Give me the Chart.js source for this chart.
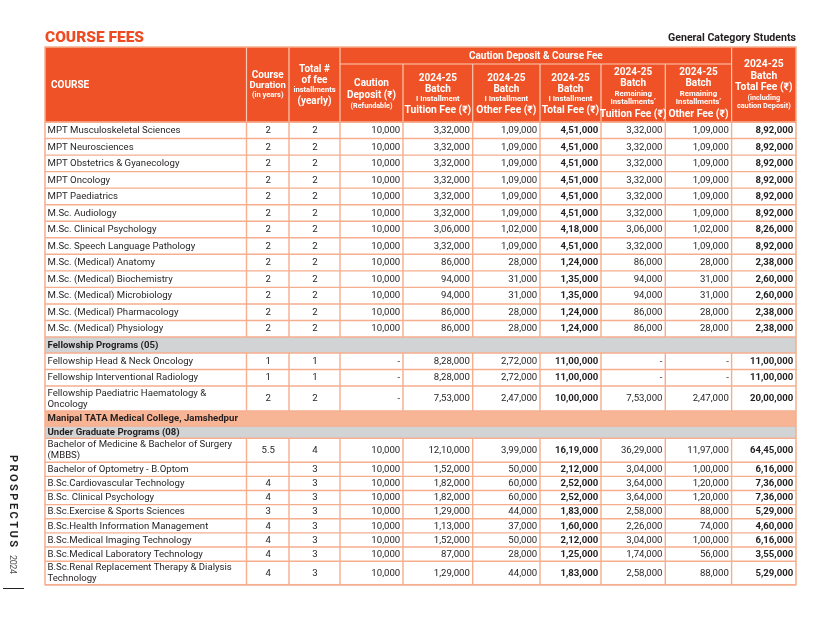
<!DOCTYPE html>
<html><head><meta charset="utf-8">
<script src="https://cdn.jsdelivr.net/npm/chart.js@4.4.1/dist/chart.umd.min.js"></script>
<style>html,body{margin:0;padding:0;background:#fff;}#wrap{width:816px;height:629px;position:relative;}</style>
</head><body><div id="wrap"><canvas id="c" width="816" height="629"></canvas></div>
<script>
// ---------- DATA ----------
const courses = [
  'MPT Musculoskeletal Sciences','MPT Neurosciences','MPT Obstetrics & Gyanecology','MPT Oncology','MPT Paediatrics',
  'M.Sc. Audiology','M.Sc. Clinical Psychology','M.Sc. Speech Language Pathology','M.Sc. (Medical) Anatomy',
  'M.Sc. (Medical) Biochemistry','M.Sc. (Medical) Microbiology','M.Sc. (Medical) Pharmacology','M.Sc. (Medical) Physiology',
  'Fellowship Head & Neck Oncology','Fellowship Interventional Radiology','Fellowship Paediatric Haematology & Oncology',
  'Bachelor of Medicine & Bachelor of Surgery (MBBS)','Bachelor of Optometry - B.Optom','B.Sc.Cardiovascular Technology',
  'B.Sc. Clinical Psychology','B.Sc.Exercise & Sports Sciences','B.Sc.Health Information Management',
  'B.Sc.Medical Imaging Technology','B.Sc.Medical Laboratory Technology','B.Sc.Renal Replacement Therapy & Dialysis Technology'
];
const duration = [2,2,2,2,2,2,2,2,2,2,2,2,2, 1,1,2, 5.5,null,4,4,3,4,4,4,4];
const installments = [2,2,2,2,2,2,2,2,2,2,2,2,2, 1,1,2, 4,3,3,3,3,3,3,3,3];
const caution = [10000,10000,10000,10000,10000,10000,10000,10000,10000,10000,10000,10000,10000, null,null,null, 10000,10000,10000,10000,10000,10000,10000,10000,10000];
const tuitionFee = [332000,332000,332000,332000,332000,332000,306000,332000,86000,94000,94000,86000,86000, 828000,828000,753000, 1210000,152000,182000,182000,129000,113000,152000,87000,129000];
const otherFee = [109000,109000,109000,109000,109000,109000,102000,109000,28000,31000,31000,28000,28000, 272000,272000,247000, 399000,50000,60000,60000,44000,37000,50000,28000,44000];
const firstTotal = [451000,451000,451000,451000,451000,451000,418000,451000,124000,135000,135000,124000,124000, 1100000,1100000,1000000, 1619000,212000,252000,252000,183000,160000,212000,125000,183000];
const remTuition = [332000,332000,332000,332000,332000,332000,306000,332000,86000,94000,94000,86000,86000, null,null,753000, 3629000,304000,364000,364000,258000,226000,304000,174000,258000];
const remOther = [109000,109000,109000,109000,109000,109000,102000,109000,28000,31000,31000,28000,28000, null,null,247000, 1197000,100000,120000,120000,88000,74000,100000,56000,88000];
const grandTotal = [892000,892000,892000,892000,892000,892000,826000,892000,238000,260000,260000,238000,238000, 1100000,1100000,2000000, 6445000,616000,736000,736000,529000,460000,616000,355000,529000];
const sectionTitles = ['Fellowship Programs (05)','Manipal TATA Medical College, Jamshedpur','Under Graduate Programs (08)'];
const sectionStartRow = [13,16,16];
const groupHeader = 'Caution Deposit & Course Fee';
const headerLines = [
  [['COURSE']],
  [['Course'],['Duration'],['(in years)']],
  [['Total #'],['of fee'],['installments'],['(yearly)']],
  [['Caution'],['Deposit (₹)'],['(Refundable)']],
  [['2024-25'],['Batch'],['I Installment'],['Tuition Fee (₹)']],
  [['2024-25'],['Batch'],['I Installment'],['Other Fee (₹)']],
  [['2024-25'],['Batch'],['I Installment'],['Total Fee (₹)']],
  [['2024-25'],['Batch'],['Remaining'],['Installments\u2019'],['Tuition Fee (₹)']],
  [['2024-25'],['Batch'],['Remaining'],['Installments\u2019'],['Other Fee (₹)']],
  [['2024-25'],['Batch'],['Total Fee (₹)'],['(including'],['caution Deposit)']]
];

// ---------- LAYOUT / STYLE ----------
const F = 'Roboto, "Liberation Sans", Arial, sans-serif';
const colEdges = [45, 246.5, 289, 340, 403, 472.7, 540, 601, 665.3, 731.6, 796];
const tableTop = 47, groupLineY = 64, headerBottom = 122;
const rowHeights = [16.54,16.54,16.54,16.54,16.54,16.54,16.54,16.54,16.54,16.54,16.54,16.54,16.54,
  16.5,16.5,25, 24,14.14,14.14,14.14,14.14,14.14,14.14,14.14,23.5];
const sectionHeights = [16,15,12.2];
const sectionFills = ['#D1D3D4','#F8B596','#D1D3D4'];
const headerStyle = [
  [[85.5,10,'bold']],
  [[75,10,'bold'],[86,9.5,'bold'],[95.5,7.5,'bold']],
  [[69,10,'bold'],[80,10,'bold'],[90.3,7.6,'bold'],[101,10,'bold']],
  [[83.5,10,'bold'],[95,10,'bold'],[105.7,7.2,'bold']],
  [[78,10,'bold'],[89,10,'bold'],[99,7.8,'bold'],[110.2,10.3,'bold']],
  [[78,10,'bold'],[89,10,'bold'],[99,7.8,'bold'],[110.2,10.3,'bold']],
  [[78,10,'bold'],[89,10,'bold'],[99,7.8,'bold'],[110.2,10.3,'bold']],
  [[72.8,10,'bold'],[83.8,10,'bold'],[94.3,7.8,'bold'],[102.3,7.8,'bold'],[114,10.3,'bold']],
  [[72.8,10,'bold'],[83.8,10,'bold'],[94.3,7.8,'bold'],[102.3,7.8,'bold'],[114,10.3,'bold']],
  [[64.5,10.3,'bold'],[76.3,10.3,'bold'],[87.8,10.3,'bold'],[97.7,7.3,'bold'],[106,7.3,'bold']]
];
const ORANGE = '#EE5226', BORDER = '#F6AE8E', HEADLINE = '#F9C9B2', INK = '#231F20';

function inr(n){
  if(n===null||n===undefined) return '-';
  const s = String(n);
  if(s.length<=3) return s;
  const last3 = s.slice(-3);
  const rest = s.slice(0,-3).replace(/\B(?=(\d{2})+(?!\d))/g, ',');
  return rest + ',' + last3;
}

function spacedText(ctx, text, start, span){
  const ws = [...text].map(ch=>ctx.measureText(ch).width);
  const total = ws.reduce((a,b)=>a+b,0);
  const gap = (span-total)/(text.length-1);
  let p = start;
  [...text].forEach((ch,i)=>{ ctx.fillText(ch, p, 0); p += ws[i]+gap; });
}

const tablePlugin = {
  id:'tablePlugin',
  afterDraw(chart){
    const ctx = chart.ctx, X = v => chart.scales.x.getPixelForValue(v), Y = v => chart.scales.y.getPixelForValue(v);
    ctx.save();
    ctx.textBaseline='alphabetic';
    ctx.fillStyle='#EE4B22'; ctx.font='900 15.5px '+F; ctx.textAlign='left';
    ctx.fillText('COURSE FEES', X(45), Y(42.3));
    ctx.fillStyle=INK; ctx.font='bold 10.6px '+F; ctx.textAlign='right';
    ctx.fillText('General Category Students', X(796), Y(40.8));

    const tL = X(colEdges[0]), tR = X(colEdges[colEdges.length-1]);
    ctx.fillStyle = ORANGE;
    ctx.fillRect(tL, Y(tableTop), tR-tL, Y(headerBottom)-Y(tableTop));
    ctx.strokeStyle = HEADLINE; ctx.lineWidth = 1.2;
    ctx.beginPath();
    [1,2,3,9].forEach(i=>{ctx.moveTo(X(colEdges[i]),Y(tableTop));ctx.lineTo(X(colEdges[i]),Y(headerBottom));});
    [4,5,6,7,8].forEach(i=>{ctx.moveTo(X(colEdges[i]),Y(groupLineY));ctx.lineTo(X(colEdges[i]),Y(headerBottom));});
    ctx.moveTo(X(colEdges[3]),Y(groupLineY)); ctx.lineTo(X(colEdges[9]),Y(groupLineY));
    ctx.stroke();
    ctx.fillStyle='#FFFFFF'; ctx.textBaseline='middle';
    ctx.font='bold 10px '+F; ctx.textAlign='center';
    ctx.fillText(groupHeader, X((colEdges[3]+colEdges[9])/2), Y(56.3));
    headerLines.forEach((lines,ci)=>{
      lines.forEach((ln,li)=>{
        const st = headerStyle[ci][li];
        ctx.font = st[2]+' '+st[1]+'px '+F;
        if(ci===0){ctx.textAlign='left'; ctx.fillText(ln[0], X(colEdges[0]+6), Y(st[0]));}
        else {ctx.textAlign='center'; ctx.fillText(ln[0], X((colEdges[ci]+colEdges[ci+1])/2), Y(st[0]));}
      });
    });

    let y = headerBottom, secIdx = 0;
    const rowsOut = [];
    for(let r=0;r<courses.length;r++){
      while(secIdx<sectionStartRow.length && sectionStartRow[secIdx]===r){
        rowsOut.push({type:'sec', i:secIdx, y0:y, y1:y+sectionHeights[secIdx]});
        y += sectionHeights[secIdx]; secIdx++;
      }
      rowsOut.push({type:'row', i:r, y0:y, y1:y+rowHeights[r]});
      y += rowHeights[r];
    }
    const bottom = y;
    ctx.fillStyle='#FFFFFF';
    ctx.fillRect(tL, Y(headerBottom), tR-tL, Y(bottom)-Y(headerBottom));
    rowsOut.forEach(o=>{
      if(o.type==='sec'){ ctx.fillStyle=sectionFills[o.i]; ctx.fillRect(tL, Y(o.y0), tR-tL, Y(o.y1)-Y(o.y0)); }
    });
    ctx.strokeStyle=BORDER; ctx.lineWidth=1.4;
    ctx.beginPath();
    rowsOut.forEach(o=>{
      ctx.moveTo(tL,Y(o.y0)); ctx.lineTo(tR,Y(o.y0));
      if(o.type==='row'){
        for(let k=1;k<colEdges.length-1;k++){ctx.moveTo(X(colEdges[k]),Y(o.y0));ctx.lineTo(X(colEdges[k]),Y(o.y1));}
      }
    });
    ctx.moveTo(tL,Y(bottom)); ctx.lineTo(tR,Y(bottom));
    ctx.stroke();
    ctx.lineWidth=1.5;
    ctx.strokeRect(tL, Y(tableTop), tR-tL, Y(bottom)-Y(tableTop));
    ctx.strokeStyle='#F59C78'; ctx.lineWidth=1.2;
    ctx.beginPath(); ctx.moveTo(tL,Y(headerBottom)); ctx.lineTo(tR,Y(headerBottom)); ctx.stroke();

    ctx.textBaseline='middle'; ctx.fillStyle=INK;
    const cols = [duration, installments, caution, tuitionFee, otherFee, firstTotal, remTuition, remOther, grandTotal];
    const boldCols = {5:true, 8:true};
    rowsOut.forEach(o=>{
      const cy = (o.y0+o.y1)/2;
      if(o.type==='sec'){
        ctx.font='bold 9.6px '+F; ctx.textAlign='left';
        ctx.fillText(sectionTitles[o.i], X(colEdges[0]+2.5), Y(cy+0.3));
        return;
      }
      const r=o.i;
      ctx.font='9.6px '+F; ctx.textAlign='left';
      const maxW = X(colEdges[1])-X(colEdges[0])-6;
      const words = courses[r].split(' '); const lines=[]; let cur='';
      words.forEach(w=>{const t=cur?cur+' '+w:w; if(ctx.measureText(t).width>maxW && cur){lines.push(cur);cur=w;} else cur=t;});
      lines.push(cur);
      const lh = 11;
      lines.forEach((ln,li)=>{ ctx.fillText(ln, X(colEdges[0]+2.5), Y(cy+0.3+(li-(lines.length-1)/2)*lh)); });
      cols.forEach((arr,ci)=>{
        const v = arr[r];
        const colIdx = ci+1;
        ctx.font = (boldCols[ci]?'bold ':'')+'9.6px '+F;
        if(ci<2){
          ctx.textAlign='center';
          ctx.fillText(v===null?'':String(v), X((colEdges[colIdx]+colEdges[colIdx+1])/2+0.5), Y(cy+0.3));
        } else {
          ctx.textAlign='right';
          ctx.fillText(inr(v), X(colEdges[colIdx+1]-2.8), Y(cy+0.3));
        }
      });
    });

    // side label (rotated, letters placed individually)
    ctx.save();
    ctx.translate(X(12.5), Y(0));
    ctx.rotate(Math.PI/2);
    ctx.textAlign='left'; ctx.textBaseline='middle';
    ctx.fillStyle=INK; ctx.font='bold 11px '+F;
    spacedText(ctx, 'PROSPECTUS', Y(455)-Y(0), 92);
    ctx.fillStyle='#4D4D4F'; ctx.font='9px '+F;
    spacedText(ctx, '2024', Y(555)-Y(0), 19);
    ctx.restore();
    ctx.strokeStyle=INK; ctx.lineWidth=1;
    ctx.beginPath(); ctx.moveTo(X(3),Y(588.5)); ctx.lineTo(X(24),Y(588.5)); ctx.stroke();
    ctx.restore();
  }
};

new Chart(document.getElementById('c'), {
  type:'scatter',
  data:{datasets:[{data:[], pointRadius:0}]},
  options:{
    responsive:false, animation:false, events:[],
    layout:{padding:0},
    plugins:{legend:{display:false}, tooltip:{enabled:false}, title:{display:false}},
    scales:{
      x:{type:'linear', min:0, max:816, display:false},
      y:{type:'linear', min:0, max:629, reverse:true, display:false}
    }
  },
  plugins:[tablePlugin]
});
</script></body></html>
